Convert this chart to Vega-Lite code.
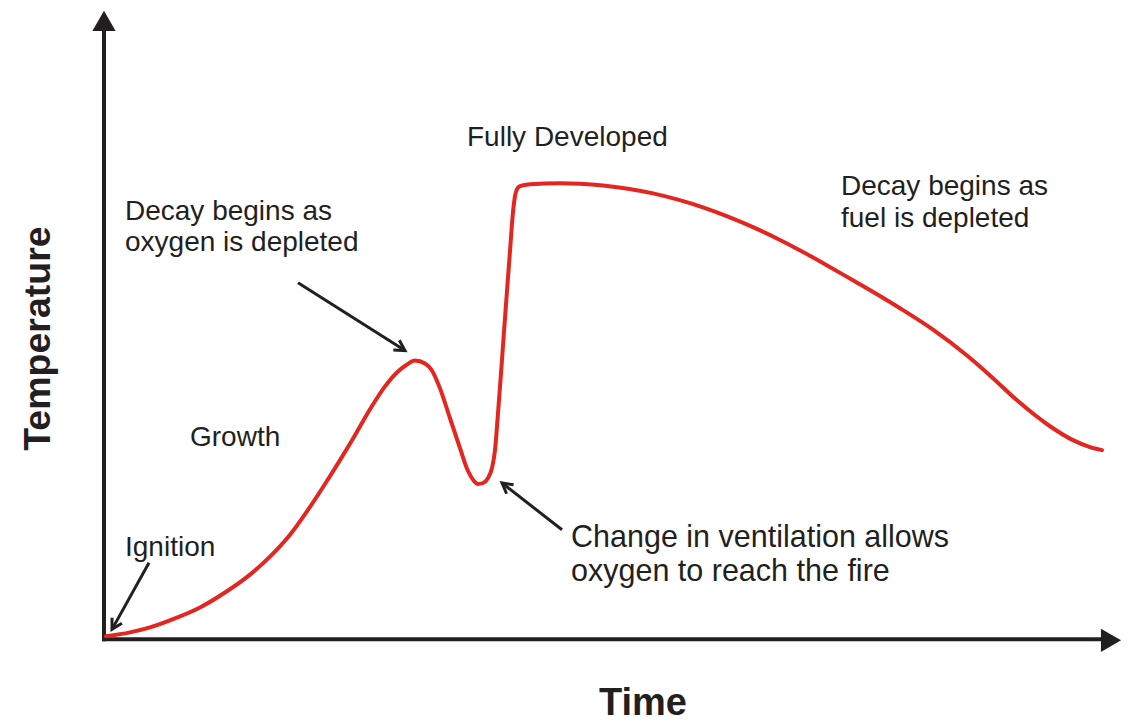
{
  "$schema": "https://vega.github.io/schema/vega-lite/v6.json",
  "width": 1129,
  "height": 723,
  "autosize": {"type": "fit", "contains": "padding"},
  "padding": 0,
  "background": "white",
  "config": {"view": {"stroke": null}},
  "datasets": {
    "curve": [
      {"time": 0.2, "temp": 0.6}, {"time": 2.6, "temp": 1.4}, {"time": 4.6, "temp": 2.4},
      {"time": 7.1, "temp": 4.2}, {"time": 9.6, "temp": 6.4}, {"time": 12.1, "temp": 9.4},
      {"time": 14.6, "temp": 13.0}, {"time": 16.6, "temp": 16.6}, {"time": 18.6, "temp": 21.0},
      {"time": 20.6, "temp": 26.6}, {"time": 22.1, "temp": 31.2}, {"time": 23.6, "temp": 36.0},
      {"time": 25.1, "temp": 41.0}, {"time": 26.6, "temp": 46.2}, {"time": 28.1, "temp": 50.8},
      {"time": 29.4, "temp": 53.8}, {"time": 30.3, "temp": 55.2}, {"time": 31.1, "temp": 56.0},
      {"time": 32.1, "temp": 55.4}, {"time": 32.8, "temp": 54.0}, {"time": 33.6, "temp": 50.4},
      {"time": 34.6, "temp": 44.4}, {"time": 35.6, "temp": 38.4}, {"time": 36.4, "temp": 33.8},
      {"time": 37.0, "temp": 31.8}, {"time": 37.4, "temp": 31.2}, {"time": 37.9, "temp": 31.4},
      {"time": 38.4, "temp": 32.4}, {"time": 38.8, "temp": 34.4}, {"time": 39.1, "temp": 38.0},
      {"time": 39.4, "temp": 45.4}, {"time": 39.7, "temp": 53.4}, {"time": 40.0, "temp": 61.8},
      {"time": 40.3, "temp": 70.0}, {"time": 40.6, "temp": 78.0}, {"time": 40.9, "temp": 85.8},
      {"time": 41.1, "temp": 89.0}, {"time": 41.3, "temp": 90.4}, {"time": 41.6, "temp": 91.0},
      {"time": 42.6, "temp": 91.4}, {"time": 45.6, "temp": 91.6}, {"time": 47.6, "temp": 91.5},
      {"time": 49.9, "temp": 91.16}, {"time": 52.4, "temp": 90.5}, {"time": 54.9, "temp": 89.56},
      {"time": 57.4, "temp": 88.3}, {"time": 59.9, "temp": 86.76}, {"time": 62.4, "temp": 84.9},
      {"time": 64.9, "temp": 82.78}, {"time": 67.4, "temp": 80.4}, {"time": 69.9, "temp": 77.8},
      {"time": 72.4, "temp": 75.0}, {"time": 74.9, "temp": 72.1}, {"time": 77.3, "temp": 69.3},
      {"time": 79.6, "temp": 66.5}, {"time": 82.9, "temp": 62.2}, {"time": 86.3, "temp": 57.0},
      {"time": 88.6, "temp": 53.0}, {"time": 91.3, "temp": 48.0}, {"time": 94.6, "temp": 42.8},
      {"time": 96.9, "temp": 40.0}, {"time": 98.6, "temp": 38.6}, {"time": 99.8, "temp": 38.0}
    ],
    "axes": [
      {"axis": "Time", "time": -0.2, "temp": 0, "time2": 100.1, "temp2": 0},
      {"axis": "Temperature", "time": 0, "temp": -0.4, "time2": 0, "temp2": 122.4}
    ],
    "axisHeadsUp": [{"axis": "Temperature", "time": 0, "temp": 124.2}],
    "axisHeadsRight": [{"axis": "Time", "time": 100.7, "temp": -0.2}],
    "arrows": [
      {"note": "Ignition", "time": 4.5, "temp": 15.4, "time2": 0.8, "temp2": 2.0, "heading": 209},
      {"note": "Decay begins as oxygen is depleted", "time": 19.4, "temp": 71.6, "time2": 30.1, "temp2": 58.0, "heading": 122},
      {"note": "Change in ventilation", "time": 45.8, "temp": 22.0, "time2": 39.8, "temp2": 31.4, "heading": 308}
    ],
    "labels": [
      {"label": "Fully Developed", "time": 36.3, "temp": 99.0},
      {"label": "Decay begins as", "time": 2.1, "temp": 84.2},
      {"label": "oxygen is depleted", "time": 2.1, "temp": 78.0},
      {"label": "Decay begins as", "time": 73.7, "temp": 89.2},
      {"label": "fuel is depleted", "time": 73.7, "temp": 82.8},
      {"label": "Growth", "time": 8.6, "temp": 38.8},
      {"label": "Ignition", "time": 2.1, "temp": 16.8}
    ],
    "bigLabels": [
      {"label": "Change in ventilation allows", "time": 46.7, "temp": 18.6},
      {"label": "oxygen to reach the fire", "time": 46.7, "temp": 11.8}
    ],
    "titleX": [{"label": "Time", "time": 53.9, "temp": -15.2}],
    "titleY": [{"label": "Temperature", "time": -5.4, "temp": 60.4}]
  },
  "encoding": {
    "x": {"field": "time", "type": "quantitative", "scale": {"domain": [-10.4, 102.5], "nice": false, "zero": false}, "axis": null},
    "y": {"field": "temp", "type": "quantitative", "scale": {"domain": [-16.2, 128.4], "nice": false, "zero": false}, "axis": null}
  },
  "layer": [
    {
      "data": {"name": "axes"},
      "mark": {"type": "rule", "stroke": "#231f20", "strokeWidth": 4},
      "encoding": {"x2": {"field": "time2"}, "y2": {"field": "temp2"}}
    },
    {
      "data": {"name": "axisHeadsUp"},
      "mark": {"type": "point", "shape": "triangle-up", "filled": true, "fill": "#231f20", "stroke": null, "size": 540, "opacity": 1}
    },
    {
      "data": {"name": "axisHeadsRight"},
      "mark": {"type": "point", "shape": "triangle-right", "filled": true, "fill": "#231f20", "stroke": null, "size": 540, "opacity": 1}
    },
    {
      "data": {"name": "curve"},
      "mark": {"type": "line", "stroke": "#e42620", "strokeWidth": 4, "interpolate": "monotone", "strokeCap": "round", "strokeJoin": "round"}
    },
    {
      "data": {"name": "arrows"},
      "mark": {"type": "rule", "stroke": "#231f20", "strokeWidth": 3, "strokeCap": "butt"},
      "encoding": {"x2": {"field": "time2"}, "y2": {"field": "temp2"}}
    },
    {
      "data": {"name": "arrows"},
      "mark": {"type": "point", "shape": "M -0.55 1 L 0 0 L 0.55 1", "filled": false, "stroke": "#231f20", "strokeWidth": 3, "size": 420, "opacity": 1, "strokeJoin": "miter"},
      "encoding": {
        "x": {"field": "time2", "type": "quantitative"},
        "y": {"field": "temp2", "type": "quantitative"},
        "angle": {"field": "heading", "type": "quantitative", "scale": null}
      }
    },
    {
      "data": {"name": "labels"},
      "mark": {"type": "text", "align": "left", "baseline": "alphabetic", "font": "Liberation Sans", "fontSize": 28, "fill": "#231f20"},
      "encoding": {"text": {"field": "label"}}
    },
    {
      "data": {"name": "bigLabels"},
      "mark": {"type": "text", "align": "left", "baseline": "alphabetic", "font": "Liberation Sans", "fontSize": 30.5, "fill": "#231f20"},
      "encoding": {"text": {"field": "label"}}
    },
    {
      "data": {"name": "titleX"},
      "mark": {"type": "text", "align": "center", "baseline": "alphabetic", "font": "Liberation Sans", "fontSize": 38, "fontWeight": "bold", "fill": "#231f20"},
      "encoding": {"text": {"field": "label"}}
    },
    {
      "data": {"name": "titleY"},
      "mark": {"type": "text", "align": "center", "baseline": "alphabetic", "font": "Liberation Sans", "fontSize": 37.5, "fontWeight": "bold", "fill": "#231f20", "angle": 270},
      "encoding": {"text": {"field": "label"}}
    }
  ]
}
